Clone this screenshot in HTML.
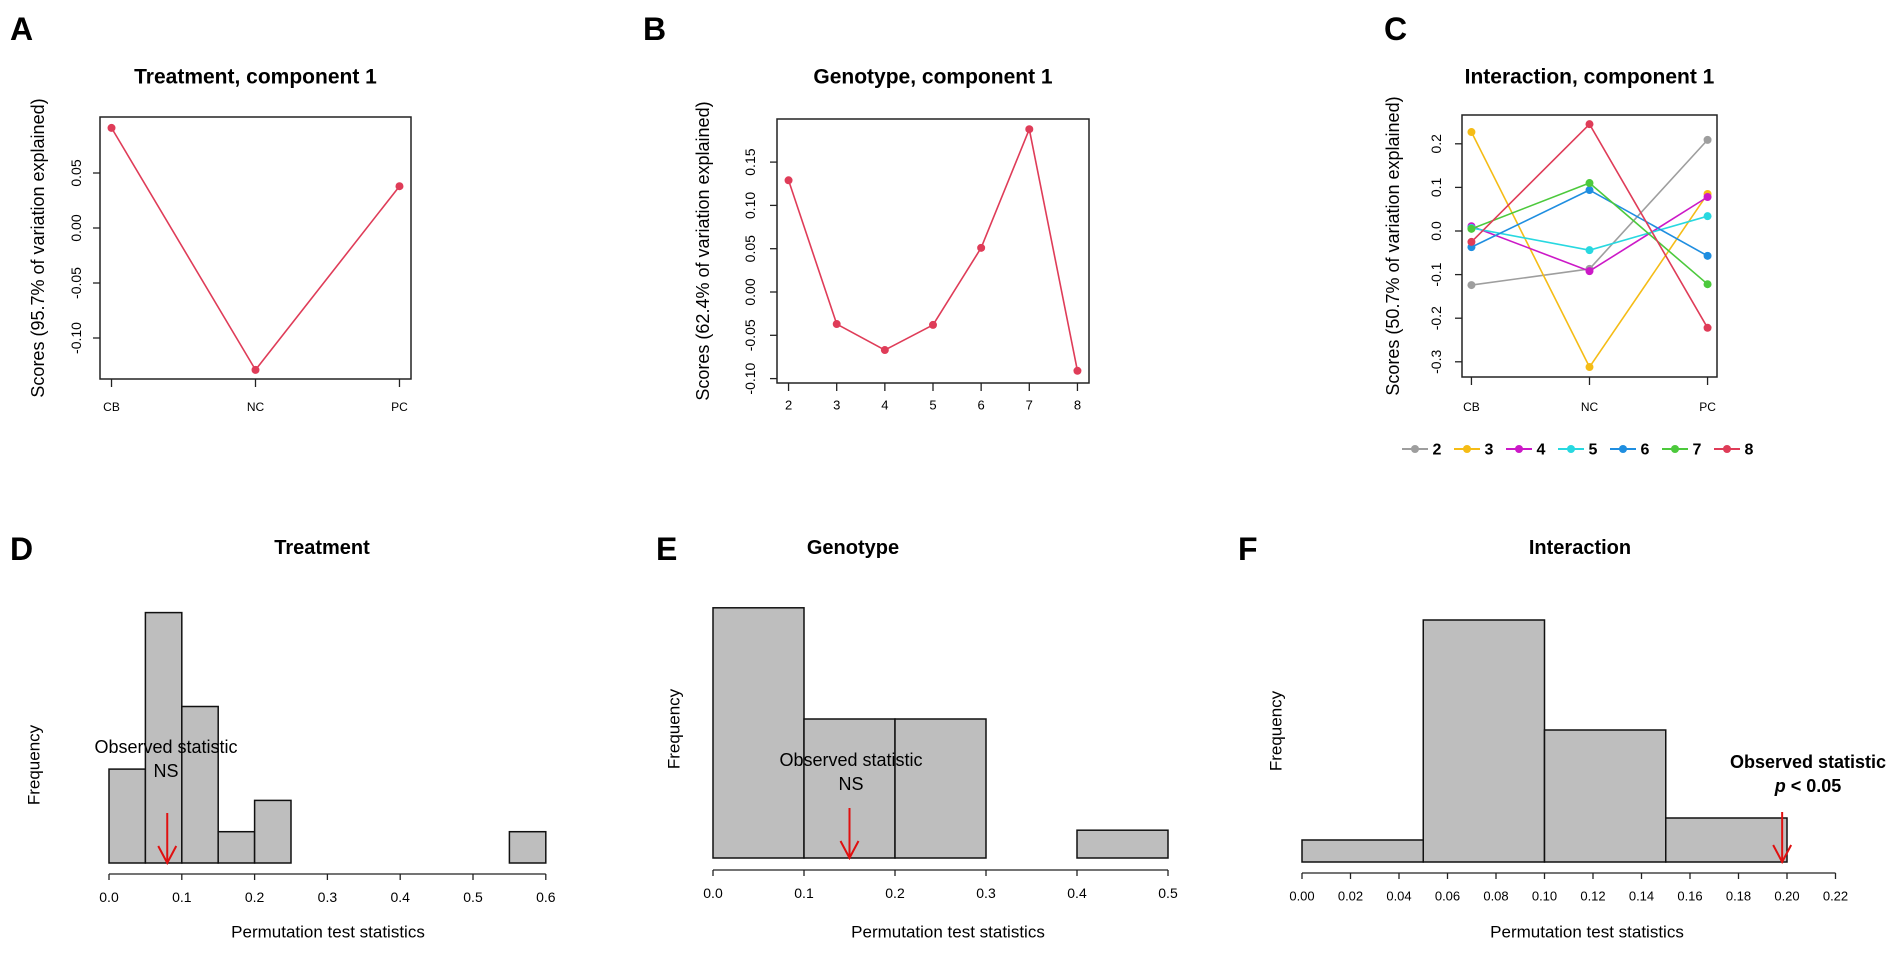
<!DOCTYPE html>
<html><head><meta charset="utf-8"><style>
html,body{margin:0;padding:0;background:#fff}
svg{display:block}
text{font-family:"Liberation Sans",Arial,sans-serif;fill:#000}
</style></head><body>
<svg id="fig" xmlns="http://www.w3.org/2000/svg" width="1902" height="959" viewBox="0 0 1902 959">
<rect x="0" y="0" width="1902" height="959" fill="#fff"/>
</svg>
<script>
// ---- data ----
const treatCats = ["CB","NC","PC"];
const treatScores = [0.091, -0.129, 0.038];
const treatTicks = [0.05, 0.00, -0.05, -0.10];
const treatTickLabels = ["0.05","0.00","-0.05","-0.10"];

const genoCats = ["2","3","4","5","6","7","8"];
const genoScores = [0.129, -0.037, -0.067, -0.038, 0.051, 0.188, -0.091];
const genoTicks = [0.15, 0.10, 0.05, 0.00, -0.05, -0.10];
const genoTickLabels = ["0.15","0.10","0.05","0.00","-0.05","-0.10"];

const interCats = ["CB","NC","PC"];
const interGroups = ["2","3","4","5","6","7","8"];
const interColors = ["#9e9e9e","#f5bc16","#cc19c7","#28d8e0","#1f8ee0","#4cc93c","#df3c58"];
const inter2 = [-0.124, -0.087, 0.209];
const inter3 = [0.227, -0.312, 0.085];
const inter4 = [0.011, -0.092, 0.078];
const inter5 = [0.007, -0.044, 0.034];
const inter6 = [-0.037, 0.094, -0.057];
const inter7 = [0.005, 0.110, -0.122];
const inter8 = [-0.025, 0.245, -0.222];
const interTicks = [0.2, 0.1, 0.0, -0.1, -0.2, -0.3];
const interTickLabels = ["0.2","0.1","0.0","-0.1","-0.2","-0.3"];

const treatHistCounts = [3,8,5,1,2,0,0,0,0,0,0,1];
const treatHistTicks = [0,0.1,0.2,0.3,0.4,0.5,0.6];
const treatHistLabels = ["0.0","0.1","0.2","0.3","0.4","0.5","0.6"];
const treatObserved = 0.08;

const genoHistCounts = [9,5,5,0,1];
const genoHistTicks = [0,0.1,0.2,0.3,0.4,0.5];
const genoHistLabels = ["0.0","0.1","0.2","0.3","0.4","0.5"];
const genoObserved = 0.15;

const interHistCounts = [1,11,6,2];
const interHistTicks = [0,0.02,0.04,0.06,0.08,0.10,0.12,0.14,0.16,0.18,0.20,0.22];
const interHistLabels = ["0.00","0.02","0.04","0.06","0.08","0.10","0.12","0.14","0.16","0.18","0.20","0.22"];
const interObserved = 0.198;

// ---- helpers ----
const NS="http://www.w3.org/2000/svg";
const svg=document.getElementById('fig');
function mk(tag,attrs,parent){const e=document.createElementNS(NS,tag);for(const k in attrs)e.setAttribute(k,attrs[k]);(parent||svg).appendChild(e);return e;}
function txt(s,x,y,size,opts,parent){opts=opts||{};const a={x:x,y:y,'font-size':size,'text-anchor':opts.anchor||'middle','dominant-baseline':'central'};if(opts.bold)a['font-weight']='bold';if(opts.rot)a.transform='rotate(-90 '+x+' '+y+')';const t=mk('text',a,parent);t.textContent=s;return t;}
function grp(name){const g=mk('g',{});return g;}

function linePanel(cfg){
  const g=grp(cfg.name);
  const {x0,x1,y0,y1,v0,vScale,n}=cfg;
  const step=(x1-x0)/((n-1)+0.08*(n-1)*2/(n-1)*((n-1)/1));
  const pad=0.04*(n-1);
  const unit=(x1-x0)/((n-1)+2*pad);
  const xs=i=>x0+(pad+i)*unit;
  const ys=v=>v0-v*vScale;
  const box=mk('rect',{x:x0,y:y0,width:x1-x0,height:y1-y0,fill:'none',stroke:'#222','stroke-width':1.5},g);
  
  cfg.ticks.forEach((v,i)=>{
    mk('line',{x1:x0-7,x2:x0,y1:ys(v),y2:ys(v),stroke:'#222','stroke-width':1.3},g);
    const t=txt(cfg.tickLabels[i],cfg.tickLabelX,ys(v),14,{rot:true},g);
    
  });
  cfg.cats.forEach((c,i)=>{
    mk('line',{x1:xs(i),x2:xs(i),y1:y1,y2:y1+8,stroke:'#222','stroke-width':1.3},g);
    const t=txt(c,xs(i),cfg.catY,cfg.catSize||12,{},g);
    
  });
  cfg.series.forEach((s,si)=>{
    const col=cfg.colors[si];
    const sg=mk('g',{},g);
    
    
    for(let i=0;i<s.length-1;i++){
      mk('line',{x1:xs(i),y1:ys(s[i]),x2:xs(i+1),y2:ys(s[i+1]),stroke:col,'stroke-width':1.6},sg);
    }
    s.forEach((v,i)=>{
      const c=mk('circle',{cx:xs(i),cy:ys(v),r:4,fill:col},sg);
      
      
    });
  });
  const tt=txt(cfg.title,(x0+x1)/2,77,21,{bold:true},g);
  
  const yt=txt(cfg.ytitle,cfg.ytitleX,(y0+y1)/2,18,{rot:true},g);
  
}

function histPanel(cfg){
  const g=grp(cfg.name);
  const xs=v=>cfg.ax0+(v-cfg.t0)*cfg.pxPer;
  const ys=c=>cfg.base-c*cfg.unit;
  cfg.counts.forEach((c,i)=>{
    const a=cfg.t0+i*cfg.bw,b=a+cfg.bw;
    const r=mk('rect',{x:xs(a),y:ys(c),width:xs(b)-xs(a),height:cfg.base-ys(c),fill:'#bebebe',stroke:'#111','stroke-width':1.5},g);
    
    
  });
  const tl=cfg.ticks;
  mk('line',{x1:xs(tl[0]),x2:xs(tl[tl.length-1]),y1:cfg.axisY,y2:cfg.axisY,stroke:'#222','stroke-width':1.3},g);
  tl.forEach((v,i)=>{
    mk('line',{x1:xs(v),x2:xs(v),y1:cfg.axisY,y2:cfg.axisY+6,stroke:'#222','stroke-width':1.3},g);
    const t=txt(cfg.labels[i],xs(v),cfg.axisY+23,cfg.labelSize||14,{},g);
    
  });
  const ax=xs(cfg.obs);
  const ag=mk('g',{},g);
  
  mk('line',{x1:ax,x2:ax,y1:cfg.base-50,y2:cfg.base,stroke:'#e01010','stroke-width':2},ag);
  mk('polyline',{points:(ax-9)+','+(cfg.base-17)+' '+ax+','+cfg.base+' '+(ax+9)+','+(cfg.base-17),fill:'none',stroke:'#e01010','stroke-width':2},ag);
  const o1=txt('Observed statistic',cfg.obsTx,cfg.obsTy,18,{bold:cfg.bold},g);
  
  const o2=mk('text',{x:cfg.obsTx,y:cfg.obsTy+24,'font-size':18,'text-anchor':'middle','dominant-baseline':'central','font-weight':cfg.bold?'bold':'normal'},g);
  if(cfg.bold){const ts=mk('tspan',{'font-style':'italic'},o2);ts.textContent='p';const t2=mk('tspan',{},o2);t2.textContent=' < 0.05';}
  else o2.textContent='NS';
  
  const tt=txt(cfg.title,cfg.titleX,548,20,{bold:true},g);
  
  const fy=txt('Frequency',cfg.freqX,cfg.freqY,17,{rot:true},g);
  
  const xl=txt('Permutation test statistics',cfg.xlabX,932,17,{},g);
  
}

// panel letters
[['A',10,40],['B',643,40],['C',1384,40],['D',10,560],['E',656,560],['F',1238,560]].forEach(p=>{
  const t=mk('text',{x:p[1],y:p[2],'font-size':32,'font-weight':'bold'});
  t.textContent=p[0];
  
  
});

linePanel({name:'panel-a-treatment-scores',x0:100,x1:411,y0:117,y1:379,v0:228,vScale:1100,n:3,
  ticks:treatTicks,tickLabels:treatTickLabels,tickLabelX:76,cats:treatCats,catY:407,
  series:[treatScores],colors:['#df3c58'],seriesNames:['treatment'],
  title:'Treatment, component 1',ytitle:'Scores (95.7% of variation explained)',ytitleX:38});
linePanel({name:'panel-b-genotype-scores',x0:777,x1:1089,y0:119,y1:383,v0:292,vScale:866,n:7,
  ticks:genoTicks,tickLabels:genoTickLabels,tickLabelX:750,cats:genoCats,catY:405,catSize:13,
  series:[genoScores],colors:['#df3c58'],seriesNames:['genotype'],
  title:'Genotype, component 1',ytitle:'Scores (62.4% of variation explained)',ytitleX:703});
linePanel({name:'panel-c-interaction-scores',x0:1462,x1:1717,y0:115,y1:377,v0:231,vScale:436,n:3,
  ticks:interTicks,tickLabels:interTickLabels,tickLabelX:1436,cats:interCats,catY:407,
  series:[inter2,inter3,inter4,inter5,inter6,inter7,inter8],colors:interColors,seriesNames:interGroups,
  title:'Interaction, component 1',ytitle:'Scores (50.7% of variation explained)',ytitleX:1393});

// legend
const lg=grp('legend');
interGroups.forEach((gname,i)=>{
  const cx=1415+i*52;
  const e=mk('g',{},lg);
  
  
  mk('line',{x1:cx-13,x2:cx+13,y1:449,y2:449,stroke:interColors[i],'stroke-width':2},e);
  mk('circle',{cx:cx,cy:449,r:4,fill:interColors[i]},e);
  const t=txt(gname,cx+22,450,16,{bold:true},e);
});

histPanel({name:'panel-d-treatment-histogram',counts:treatHistCounts,t0:0,bw:0.05,ax0:109,pxPer:728,base:863,unit:31.3,axisY:874,
  ticks:treatHistTicks,labels:treatHistLabels,obs:treatObserved,obsTx:166,obsTy:747,bold:false,
  title:'Treatment',titleX:322,freqX:34,freqY:765,xlabX:328});
histPanel({name:'panel-e-genotype-histogram',counts:genoHistCounts,t0:0,bw:0.1,ax0:713,pxPer:910,base:858,unit:27.8,axisY:870,
  ticks:genoHistTicks,labels:genoHistLabels,obs:genoObserved,obsTx:851,obsTy:760,bold:false,
  title:'Genotype',titleX:853,freqX:674,freqY:729,xlabX:948});
histPanel({name:'panel-f-interaction-histogram',counts:interHistCounts,t0:0,bw:0.05,ax0:1302,pxPer:2425,base:862,unit:22,axisY:873,
  ticks:interHistTicks,labels:interHistLabels,obs:interObserved,obsTx:1808,obsTy:762,bold:true,labelSize:13,
  title:'Interaction',titleX:1580,freqX:1276,freqY:731,xlabX:1587});
</script>
</body></html>
